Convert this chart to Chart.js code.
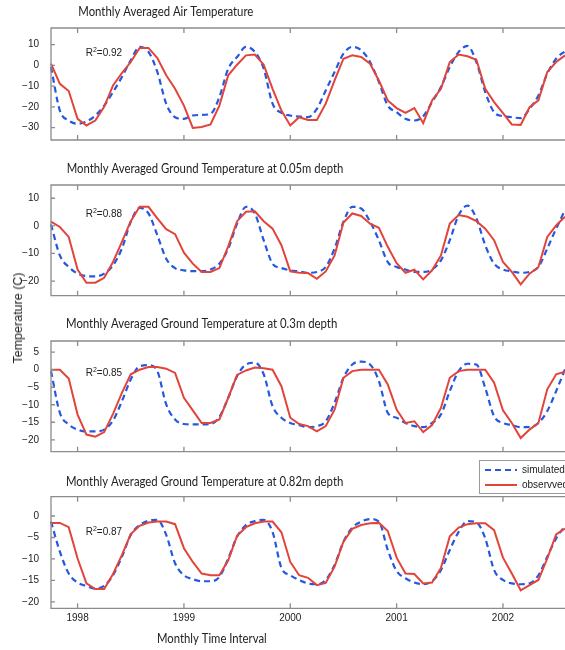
<!DOCTYPE html>
<html>
<head>
<meta charset="utf-8">
<script src="https://cdn.jsdelivr.net/npm/chart.js@4"></script>
<style>
  html, body { margin: 0; padding: 0; background: #fff; overflow: hidden; }
  #wrap { position: relative; width: 565px; height: 650px; }
  #wrap canvas { position: absolute; left: 0; top: 0; }
  #ylab {
    position: absolute; left: 18px; top: 318px;
    transform: translate(-50%, -50%) rotate(-90deg);
    white-space: nowrap; font: 12.5px 'Liberation Sans', Arial, sans-serif; color: #222;
  }
</style>
</head>
<body>
<div id="wrap">
  <canvas id="c1" width="565" height="650"></canvas>
  <canvas id="c2" width="565" height="650"></canvas>
  <canvas id="c3" width="565" height="650"></canvas>
  <canvas id="c4" width="565" height="650"></canvas>
  <div id="ylab">Temperature (C)</div>
</div>
<script>
// monthly time axis, Oct 1997 .. Aug 2002
const months = [
  '1997-10','1997-11','1997-12',
  '1998-01','1998-02','1998-03','1998-04','1998-05','1998-06','1998-07','1998-08','1998-09','1998-10','1998-11','1998-12',
  '1999-01','1999-02','1999-03','1999-04','1999-05','1999-06','1999-07','1999-08','1999-09','1999-10','1999-11','1999-12',
  '2000-01','2000-02','2000-03','2000-04','2000-05','2000-06','2000-07','2000-08','2000-09','2000-10','2000-11','2000-12',
  '2001-01','2001-02','2001-03','2001-04','2001-05','2001-06','2001-07','2001-08','2001-09','2001-10','2001-11','2001-12',
  '2002-01','2002-02','2002-03','2002-04','2002-05','2002-06','2002-07','2002-08'
];

// air temperature
const airSim = [-0.8,-21.8,-26.6,-28.2,-27.1,-24.2,-19.4,-12.9,-5.6,2.4,8.9,6.5,-3.2,-18.5,-25,-25.8,-24.2,-23.9,-23.4,-15.3,-1.6,4,8.9,6.5,-1.6,-18.5,-22.9,-24.2,-24.7,-25,-21,-12.1,-3.2,5.6,8.9,7.3,1.6,-8.1,-19.4,-22.6,-25.8,-26.6,-24.5,-17.7,-10.5,-0.8,6.5,9.4,1.6,-12.9,-22.6,-24.5,-25,-25.5,-21,-14.5,-4,3.2,6.8];
const airObs = [0.8,-8.9,-12.4,-25.8,-29,-26.6,-20,-9.7,-3.7,1.6,8.4,8.4,3.5,-4.8,-11.3,-19.4,-30.2,-29.7,-28.5,-19.4,-4.8,0.3,4.8,5.2,0.3,-11.3,-21.8,-29,-25,-26.3,-26.3,-18.5,-7.3,3.2,4.8,4,0.8,-7.3,-16.9,-20.6,-22.9,-20.6,-27.9,-16.9,-11.3,1.6,5.2,4.4,2.7,-11.3,-17.7,-23,-28.5,-28.7,-20.2,-16.9,-3.2,1.6,4.8];

// ground 0.05 m
const g005Sim = [0.5,-10.7,-14.9,-17.3,-18.2,-18.3,-17.3,-14.3,-8.2,1.5,6.5,4.5,-3.4,-11.9,-15.3,-16.1,-16.4,-16.4,-15.8,-13.7,-8.2,0.8,6.9,4.5,-5.2,-13.7,-15.3,-16.1,-16.5,-17,-16.7,-14.9,-8.2,1.5,6.9,6.3,1.5,-5.2,-13.1,-14.9,-15.8,-16.7,-16.7,-15.8,-12.5,-5.2,3.9,7.3,2.7,-7,-13.7,-15.8,-16.5,-17,-16.7,-14.9,-8.2,-1,5.7];
const g005Obs = [1.5,-0.4,-4,-15.8,-20.6,-20.6,-18.8,-13.1,-5.8,1.7,6.9,6.9,2.7,-1.2,-3,-9.7,-13.7,-16.7,-16.7,-15.3,-7.4,1.7,5.1,5.3,1.7,-1,-7,-16.5,-17,-17.1,-19.2,-16.5,-10.7,1.2,4.5,3.6,0.8,-0.7,-7.6,-13.5,-17,-15.9,-19.4,-16.1,-10.7,0.8,3.9,3.3,1.7,-1,-5.2,-13.1,-16.7,-21.2,-17.3,-14.9,-4,0.2,3.3];

// ground 0.3 m
const g03Sim = [-0.4,-12.3,-15.6,-17.1,-17.6,-17.6,-17.1,-14.5,-9,-2.8,1,1.3,-0.4,-9.9,-14.2,-15.5,-15.6,-15.6,-15.5,-13.5,-8,-1.8,1.5,2,-1.3,-10.4,-13.7,-15.2,-15.8,-16.4,-16.1,-14.7,-9.4,-2.3,1.5,2.3,1.5,-3.2,-12.3,-13.7,-15.2,-16.1,-16.4,-15.2,-12.8,-6.1,-0.4,1.7,1.5,-5.2,-13.3,-15.2,-15.8,-16.4,-16.4,-15.2,-11.8,-6.1,0.1];
const g03Obs = [0,0,-2.5,-12.8,-18.5,-19.1,-17.8,-12.6,-6.6,-1.3,0,0.8,0.8,0.3,-0.9,-8,-11.6,-15.2,-15.2,-14.2,-8,-1.5,-0.2,0.6,0.4,0,-4.7,-13.7,-15.5,-16.1,-17.6,-16.1,-11.4,-2.3,-0.4,0,0,0,-4.2,-11.4,-15.2,-14.7,-17.8,-15.8,-10.9,-2.3,-0.4,0,0,0,-3.7,-11.6,-15.2,-19.5,-17.1,-15.2,-5.6,-1.3,-0.6];

// ground 0.82 m
const g082Sim = [-1.3,-8.3,-13.4,-15.5,-16.3,-16.9,-16.3,-13.8,-9.5,-4.4,-2.1,-1.1,-0.9,-4.4,-11,-13.8,-14.7,-15.2,-15.2,-14.2,-9.9,-4.8,-2.1,-1.2,-0.9,-3.7,-12.1,-13.8,-14.9,-15.7,-15.9,-14.9,-11.4,-6,-2.7,-1.3,-0.7,-1.3,-7.9,-12.8,-14.5,-15.5,-15.9,-15.2,-12.6,-7.9,-3.7,-1.2,-1.5,-5.2,-12.6,-14.9,-15.7,-15.9,-15.7,-13.8,-9.5,-5.2,-2.3];
const g082Obs = [-1.6,-1.6,-2.6,-9.9,-15.7,-17,-17,-13.5,-9.1,-4.2,-2.3,-1.5,-1.3,-1.3,-1.9,-7.5,-10.7,-13.4,-13.8,-13.8,-10.3,-4.6,-2.6,-1.7,-1.3,-1.3,-3.8,-10.7,-13.8,-14.4,-16.1,-15.6,-11.8,-6,-3,-2.1,-1.7,-1.6,-3.5,-9.7,-13.4,-13.5,-15.7,-15.5,-12.1,-4.7,-2.7,-1.9,-1.7,-1.7,-3.3,-9.7,-13.4,-17.3,-16.1,-14.9,-9.9,-4.3,-2.9];

const titles = [
  'Monthly Averaged Air Temperature',
  'Monthly Averaged Ground Temperature at 0.05m depth',
  'Monthly Averaged Ground Temperature at 0.3m depth',
  'Monthly Averaged Ground Temperature at 0.82m depth'
];
const r2Values = ['0.92', '0.88', '0.85', '0.87'];
const yRanges = [[-36, 18], [-25.3, 14.8], [-23.4, 8.2], [-21.5, 4.5]];
const yTicks = [
  [-30, -20, -10, 0, 10],
  [-20, -10, 0, 10],
  [-20, -15, -10, -5, 0, 5],
  [-20, -15, -10, -5, 0]
];
const seriesNames = ['simulated', 'observved'];
const simSeries = [airSim, g005Sim, g03Sim, g082Sim];
const obsSeries = [airObs, g005Obs, g03Obs, g082Obs];

// layout of the four panels (page pixels)
const panels = [
  { top: 28,    bottom: 140,   titleX: 78.3, titleW: 175,   titleY: 16,    r2Y: 56 },
  { top: 185,   bottom: 295.7, titleX: 66.7, titleW: 276.6, titleY: 172.7, r2Y: 216.7 },
  { top: 341,   bottom: 451.7, titleX: 66,   titleW: 271.3, titleY: 328.3, r2Y: 375.7 },
  { top: 496.7, bottom: 608.3, titleX: 66,   titleW: 277.3, titleY: 486,   r2Y: 535.3 }
];

const BLUE = '#2458e0';
const RED = '#e2443a';
const BOX = '#8c8c8c';
const TXT = '#222';
const TICKFONT = "'Liberation Sans', Arial, sans-serif";

function fitText(ctx, text, x, y, w) {
  const m = ctx.measureText(text).width;
  ctx.save();
  ctx.translate(x, y);
  ctx.scale(w / m, 1);
  ctx.fillText(text, 0, 0);
  ctx.restore();
}

const decorations = {
  id: 'decorations',
  afterDraw(chart, args, opts) {
    const { ctx, chartArea: a } = chart;
    const xs = chart.scales.x, ys = chart.scales.y;
    const p = panels[opts.idx];
    ctx.save();

    // axes box (left, top, bottom) and inward tick marks
    ctx.strokeStyle = BOX;
    ctx.lineWidth = 1.3;
    ctx.beginPath();
    ctx.moveTo(a.right + 2, a.top);
    ctx.lineTo(a.left, a.top);
    ctx.lineTo(a.left, a.bottom);
    ctx.lineTo(a.right + 2, a.bottom);
    xs.ticks.forEach(t => {
      const px = xs.getPixelForValue(t.value);
      ctx.moveTo(px, a.top); ctx.lineTo(px, a.top + 5);
      ctx.moveTo(px, a.bottom); ctx.lineTo(px, a.bottom - 5);
    });
    ys.ticks.forEach(t => {
      const py = ys.getPixelForValue(t.value);
      ctx.moveTo(a.left, py); ctx.lineTo(a.left + 4, py);
    });
    ctx.stroke();

    // panel title
    ctx.fillStyle = TXT;
    ctx.textBaseline = 'alphabetic';
    ctx.textAlign = 'left';
    ctx.font = '13.5px Lato, sans-serif';
    fitText(ctx, titles[opts.idx], p.titleX, p.titleY, p.titleW);

    // R^2 label
    ctx.font = '10px ' + TICKFONT;
    let x = 85.7;
    ctx.fillText('R', x, p.r2Y);
    x += ctx.measureText('R').width;
    ctx.font = '7px ' + TICKFONT;
    ctx.fillText('2', x, p.r2Y - 4);
    x += ctx.measureText('2').width;
    ctx.font = '10px ' + TICKFONT;
    ctx.fillText('=' + r2Values[opts.idx], x, p.r2Y);

    if (opts.idx === 3) {
      // x axis title
      ctx.font = '13.5px Lato, sans-serif';
      fitText(ctx, 'Monthly Time Interval', 157, 643.3, 109.7);

      // legend
      ctx.fillStyle = '#fff';
      ctx.fillRect(479.5, 460.5, 100, 33);
      ctx.strokeStyle = '#9a9a9a';
      ctx.lineWidth = 1;
      ctx.strokeRect(479.5, 460.5, 100, 33);
      ctx.lineWidth = 2;
      ctx.strokeStyle = BLUE;
      ctx.setLineDash([6, 4]);
      ctx.beginPath(); ctx.moveTo(485, 470); ctx.lineTo(517, 470); ctx.stroke();
      ctx.setLineDash([]);
      ctx.strokeStyle = RED;
      ctx.beginPath(); ctx.moveTo(485, 485); ctx.lineTo(517, 485); ctx.stroke();
      ctx.fillStyle = TXT;
      ctx.font = '10px ' + TICKFONT;
      ctx.textBaseline = 'middle';
      ctx.fillText(seriesNames[0], 522, 470);
      ctx.fillText(seriesNames[1], 522, 485);
    }
    ctx.restore();
  }
};

function makePanel(idx) {
  const p = panels[idx];
  const last = idx === 3;
  new Chart(document.getElementById('c' + (idx + 1)), {
    type: 'line',
    data: {
      labels: months,
      datasets: [
        {
          label: seriesNames[0], data: simSeries[idx], order: 1,
          borderColor: BLUE, borderWidth: 2.2, borderDash: [6, 4],
          pointRadius: 0, tension: 0, cubicInterpolationMode: 'monotone', fill: false
        },
        {
          label: seriesNames[1], data: obsSeries[idx], order: 0,
          borderColor: RED, borderWidth: 2, pointRadius: 0, tension: 0, fill: false
        }
      ]
    },
    options: {
      responsive: false,
      animation: false,
      events: [],
      layout: { padding: { top: p.top, left: 0, right: 0, bottom: last ? 0 : 650 - p.bottom } },
      plugins: { legend: { display: false }, tooltip: { enabled: false }, decorations: { idx } },
      scales: {
        x: {
          type: 'category',
          offset: false,
          grid: { display: false, drawTicks: false },
          border: { display: false },
          ticks: {
            display: last, autoSkip: false, maxRotation: 0, padding: 4,
            color: TXT, font: { family: TICKFONT, size: 10 },
            callback: v => months[v].slice(0, 4)
          },
          afterBuildTicks: s => { s.ticks = s.ticks.filter(t => months[t.value].endsWith('-01')); },
          afterFit: s => { s.height = last ? 650 - p.bottom : 0; }
        },
        y: {
          min: yRanges[idx][0], max: yRanges[idx][1],
          grid: { display: false, drawTicks: false },
          border: { display: false },
          ticks: {
            padding: 12, color: TXT, font: { family: TICKFONT, size: 10 },
            callback: v => String(v).replace('-', '\u2212')
          },
          afterBuildTicks: s => { s.ticks = yTicks[idx].map(v => ({ value: v })); },
          afterFit: s => { s.width = 51; }
        }
      }
    },
    plugins: [decorations]
  });
}

[0, 1, 2, 3].forEach(makePanel);
</script>
</body>
</html>
